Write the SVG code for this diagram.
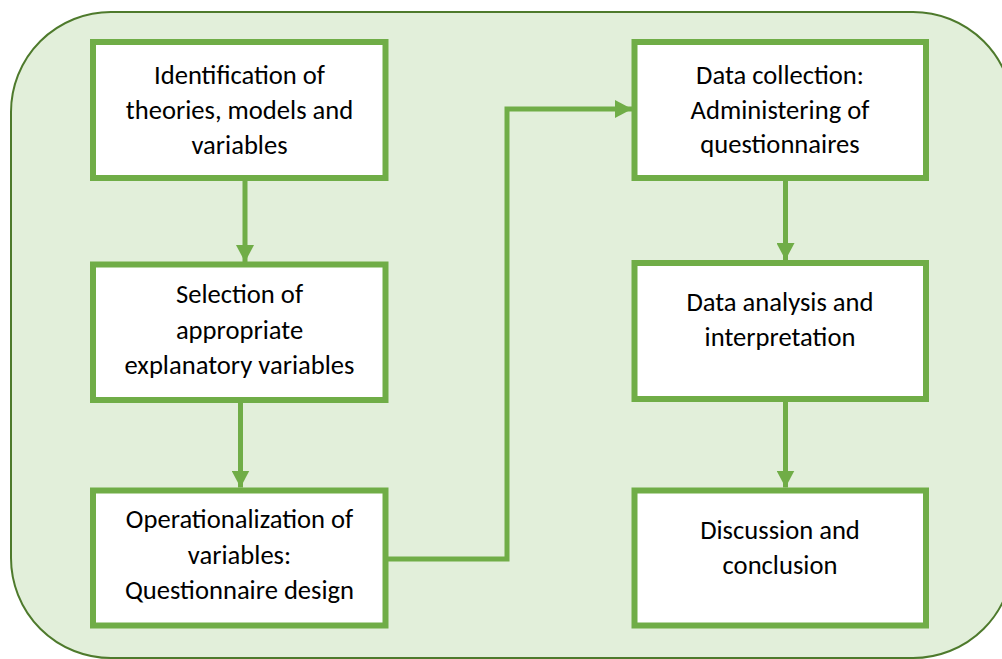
<svg xmlns="http://www.w3.org/2000/svg" width="1002" height="659" viewBox="0 0 1002 659">
  <style>
    .panel { fill: #e2efda; stroke: #4e7a2c; stroke-width: 2; }
    .box { fill: #ffffff; stroke: #70ad47; stroke-width: 6; }
    .link { fill: none; stroke: #70ad47; stroke-width: 5; }
    .label { font-family: Carlito, Lato, "Liberation Sans", sans-serif; font-size: 26.6px; fill: #000000; text-anchor: middle; }
  </style>
  <defs>
    <marker id="arrow" markerUnits="userSpaceOnUse" markerWidth="17" markerHeight="18" refX="17" refY="9" orient="auto">
      <path d="M0,0 L17,9 L0,18 Z" fill="#70ad47"/>
    </marker>
  </defs>

  <!-- background panel -->
  <rect class="panel" x="11" y="12" width="1002" height="646" rx="100" ry="100"/>

  <!-- connectors -->
  <g id="connectors">
    <line class="link" x1="245" y1="181" x2="245" y2="262" marker-end="url(#arrow)"/>
    <line class="link" x1="240.5" y1="403" x2="240.5" y2="487.5" marker-end="url(#arrow)"/>
    <polyline class="link" points="388,559 507,559 507,109 632,109" marker-end="url(#arrow)"/>
    <line class="link" x1="785.5" y1="181" x2="785.5" y2="260" marker-end="url(#arrow)"/>
    <line class="link" x1="785.5" y1="402" x2="785.5" y2="487.5" marker-end="url(#arrow)"/>
  </g>

  <!-- left column -->
  <g id="node-theories">
    <rect class="box" x="93" y="42" width="292.5" height="136"/>
    <text class="label" x="239.5" y="83.5">Identification of</text>
    <text class="label" x="239.5" y="118.5">theories, models and</text>
    <text class="label" x="239.5" y="153.5">variables</text>
  </g>

  <g id="node-selection">
    <rect class="box" x="93" y="264.5" width="292.5" height="135.5"/>
    <text class="label" x="239.5" y="303">Selection of</text>
    <text class="label" x="239.5" y="339">appropriate</text>
    <text class="label" x="239.5" y="374">explanatory variables</text>
  </g>

  <g id="node-operationalization">
    <rect class="box" x="93" y="490.5" width="292.5" height="135"/>
    <text class="label" x="239.5" y="528">Operationalization of</text>
    <text class="label" x="239.5" y="563.5">variables:</text>
    <text class="label" x="239.5" y="599">Questionnaire design</text>
  </g>

  <!-- right column -->
  <g id="node-collection">
    <rect class="box" x="634.5" y="42" width="291.5" height="136"/>
    <text class="label" x="780" y="83.5">Data collection:</text>
    <text class="label" x="780" y="118.5">Administering of</text>
    <text class="label" x="780" y="152.5">questionnaires</text>
  </g>

  <g id="node-analysis">
    <rect class="box" x="634.5" y="263" width="291.5" height="136"/>
    <text class="label" x="780" y="311">Data analysis and</text>
    <text class="label" x="780" y="346">interpretation</text>
  </g>

  <g id="node-discussion">
    <rect class="box" x="634.5" y="490.5" width="291.5" height="135"/>
    <text class="label" x="780" y="539">Discussion and</text>
    <text class="label" x="780" y="574">conclusion</text>
  </g>
</svg>
